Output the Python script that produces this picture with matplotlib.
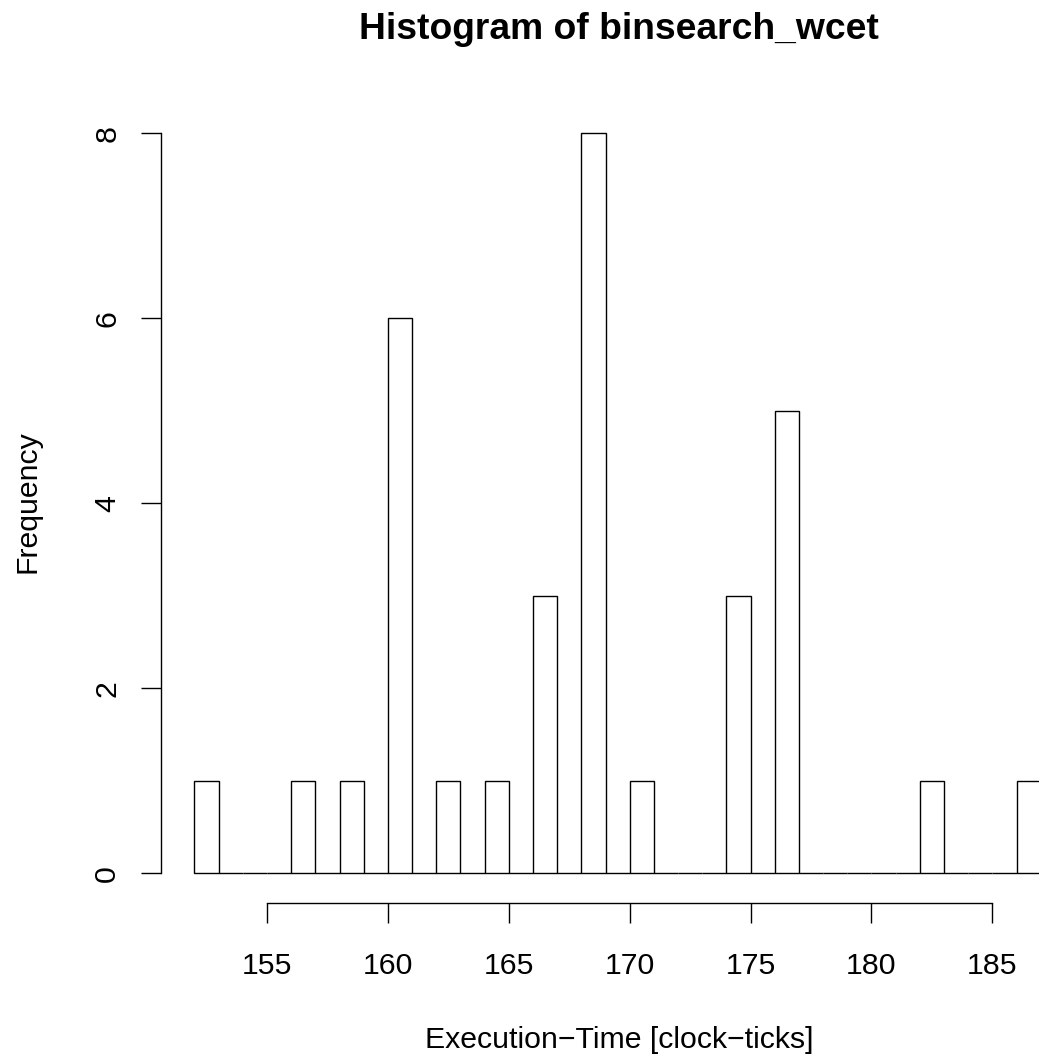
import matplotlib
matplotlib.use("Agg")
import matplotlib.pyplot as plt
import numpy as np

plt.rcParams['font.family'] = ['Liberation Sans', 'DejaVu Sans']

# Histogram bins (width 1) and their frequencies
bin_edges = list(range(152, 188))
frequencies = [1, 0, 0, 0, 1, 0, 1, 0, 6, 0, 1, 0, 1, 0, 3, 0, 8, 0,
               1, 0, 0, 0, 3, 0, 5, 0, 0, 0, 0, 0, 1, 0, 0, 0, 1]
x_ticks = [155, 160, 165, 170, 175, 180, 185]
y_ticks = [0, 2, 4, 6, 8]

title = "Histogram of binsearch_wcet"
x_label = "Execution\u2212Time [clock\u2212ticks]"
y_label = "Frequency"

W, H = 1039, 1058
fig = plt.figure(figsize=(W / 100, H / 100), dpi=100)
ax = fig.add_axes([160.6 / W, (H - 902.9) / H, 914.0 / W, 799.2 / H])

edges = np.array(bin_edges, dtype=float)
ax.bar(edges[:-1], frequencies, width=np.diff(edges), align='edge',
       fill=False, edgecolor='black', linewidth=1.0)

# R-style axis limits: data range extended by 4% on each side
span_x = edges[-1] - edges[0]
ax.set_xlim(edges[0] - 0.04 * span_x, edges[-1] + 0.04 * span_x)
ymax = max(frequencies)
ax.set_ylim(-0.04 * ymax, ymax * 1.04)

for side in ('top', 'right'):
    ax.spines[side].set_visible(False)
ax.spines['bottom'].set_bounds(x_ticks[0], x_ticks[-1])
ax.spines['left'].set_bounds(y_ticks[0], y_ticks[-1])
for side in ('bottom', 'left'):
    ax.spines[side].set_linewidth(1.0)

ax.set_xticks(x_ticks)
ax.set_xticklabels([str(t) for t in x_ticks])
ax.set_yticks(y_ticks)
ax.set_yticklabels([str(t) for t in y_ticks], rotation=90, va='center')
ax.tick_params(axis='x', length=14.4, width=1.0, labelsize=21.8, pad=20.6)
ax.tick_params(axis='y', length=14.4, width=1.0, labelsize=21.8, pad=14.0)

fig.text(618.9 / W, (H - 39.3) / H, title, ha='center', va='baseline',
         fontsize=26.8, fontweight='bold')
fig.text(618.9 / W, (H - 1048.3) / H, x_label, ha='center', va='baseline',
         fontsize=21.8)
fig.text(27.7 / W, (H - 501.7) / H, y_label, ha='center', va='center',
         rotation=90, fontsize=21.8)

fig.savefig("out.png", dpi=100, facecolor='white')
